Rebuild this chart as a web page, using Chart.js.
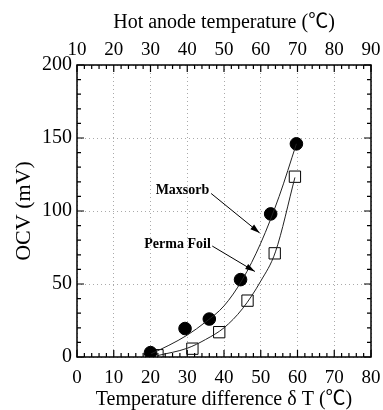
<!DOCTYPE html>
<html>
<head>
<meta charset="utf-8">
<script src="https://cdn.jsdelivr.net/npm/chart.js@4"></script>
<style>
  html, body { margin: 0; padding: 0; background: #fff; }
  #wrap { width: 383px; height: 410px; }
</style>
</head>
<body>
<div id="wrap"><canvas id="ocvChart"></canvas></div>
<script>
// measured points (temperature difference, OCV)
const maxsorbX = [20, 29.4, 36, 44.5, 52.7, 59.7];
const maxsorbY = [3, 19.5, 26, 53, 98, 146];
const permaX = [21.9, 31.4, 38.7, 46.4, 53.8, 59.3];
const permaY = [1.2, 5.7, 17, 38.6, 71, 123.5];

// fitted curves
const maxsorbFitX = [20, 25, 30, 35, 40, 45, 50, 55, 59.7];
const maxsorbFitY = [2, 8, 15, 24, 35, 53, 78, 110, 146];
const permaFitX = [22, 30, 35, 40, 45, 50, 54, 59.3];
const permaFitY = [1, 6, 12, 20, 33, 52, 72, 123];

const bottomTicks = [0, 10, 20, 30, 40, 50, 60, 70, 80];
const topTicks = [10, 20, 30, 40, 50, 60, 70, 80, 90];
const yTicks = [0, 50, 100, 150, 200];

const serif = "'Liberation Serif', 'Noto Sans CJK JP', 'DejaVu Serif', serif";

function pts(xs, ys) {
    return xs.map(function (x, i) { return { x: x, y: ys[i] }; });
}

// frame, inward ticks and the two labels with arrows
const framePlugin = {
    id: 'frame',
    afterDraw: function (chart) {
        const ctx = chart.ctx;
        const a = chart.chartArea;
        const x = chart.scales.x, y = chart.scales.y;
        ctx.save();
        ctx.strokeStyle = '#000';
        ctx.lineWidth = 1.5;
        ctx.strokeRect(a.left, a.top, a.right - a.left, a.bottom - a.top);
        ctx.lineWidth = 1.2;
        ctx.beginPath();
        for (let v = 0; v <= 80; v += 2) {
            const px = x.getPixelForValue(v);
            const len = v % 10 === 0 ? 7 : 4;
            ctx.moveTo(px, a.bottom); ctx.lineTo(px, a.bottom - len);
            ctx.moveTo(px, a.top); ctx.lineTo(px, a.top + len);
        }
        for (let v = 0; v <= 200; v += 10) {
            const py = y.getPixelForValue(v);
            const len = v % 50 === 0 ? 7 : 4;
            ctx.moveTo(a.left, py); ctx.lineTo(a.left + len, py);
            ctx.moveTo(a.right, py); ctx.lineTo(a.right - len, py);
        }
        ctx.stroke();

        // labels
        ctx.fillStyle = '#000';
        ctx.font = 'bold 14px ' + serif;
        ctx.textAlign = 'right';
        ctx.textBaseline = 'middle';
        ctx.fillText('Maxsorb', x.getPixelForValue(36), y.getPixelForValue(114));
        ctx.fillText('Perma Foil', x.getPixelForValue(36.4), y.getPixelForValue(77));

        function arrow(x0, y0, x1, y1) {
            const p0x = x.getPixelForValue(x0), p0y = y.getPixelForValue(y0);
            const p1x = x.getPixelForValue(x1), p1y = y.getPixelForValue(y1);
            const ang = Math.atan2(p1y - p0y, p1x - p0x);
            ctx.lineWidth = 1;
            ctx.beginPath();
            ctx.moveTo(p0x, p0y); ctx.lineTo(p1x, p1y);
            ctx.stroke();
            ctx.beginPath();
            ctx.moveTo(p1x, p1y);
            ctx.lineTo(p1x - 10 * Math.cos(ang - 0.3), p1y - 10 * Math.sin(ang - 0.3));
            ctx.lineTo(p1x - 10 * Math.cos(ang + 0.3), p1y - 10 * Math.sin(ang + 0.3));
            ctx.closePath();
            ctx.fill();
        }
        arrow(36.5, 112, 49.7, 85);
        arrow(36.8, 76, 48.4, 58.6);
        ctx.restore();
    }
};

new Chart(document.getElementById('ocvChart').getContext('2d'), {
    type: 'scatter',
    data: {
        datasets: [{
            label: 'Maxsorb fit',
            data: pts(maxsorbFitX, maxsorbFitY),
            showLine: true,
            borderColor: '#222',
            borderWidth: 1,
            pointRadius: 0,
            cubicInterpolationMode: 'monotone',
            xAxisID: 'x', yAxisID: 'y'
        }, {
            label: 'Perma Foil fit',
            data: pts(permaFitX, permaFitY),
            showLine: true,
            borderColor: '#222',
            borderWidth: 1,
            pointRadius: 0,
            cubicInterpolationMode: 'monotone',
            xAxisID: 'x', yAxisID: 'y'
        }, {
            label: 'Maxsorb',
            data: pts(maxsorbX, maxsorbY),
            pointStyle: 'circle',
            pointRadius: 6.3,
            backgroundColor: '#000',
            borderColor: '#000',
            xAxisID: 'x', yAxisID: 'y'
        }, {
            label: 'Perma Foil',
            data: pts(permaX, permaY),
            pointStyle: 'rect',
            pointRadius: 8,
            backgroundColor: '#fff',
            borderColor: '#000',
            borderWidth: 1,
            xAxisID: 'x', yAxisID: 'y'
        }]
    },
    options: {
        responsive: true,
        maintainAspectRatio: false,
        animation: false,
        layout: { padding: 0 },
        plugins: {
            legend: { display: false },
            tooltip: { enabled: false }
        },
        scales: {
            x: {
                type: 'linear', position: 'bottom', min: 0, max: 80,
                afterBuildTicks: function (s) { s.ticks = bottomTicks.map(function (v) { return { value: v }; }); },
                afterFit: function (s) { s.height = 53; s.paddingLeft = 0; s.paddingRight = 0; },
                ticks: { color: '#000', font: { family: serif, size: 19 }, padding: 10, maxRotation: 0 },
                grid: { color: '#aaa', drawTicks: false, lineWidth: 1 },
                border: { display: false, dash: [1, 3] },
                title: { display: true, text: 'Temperature difference \u03b4 T (\u2103)', color: '#000',
                         font: { family: serif, size: 20, lineHeight: 1 }, padding: { top: 0, bottom: 0 } }
            },
            x2: {
                type: 'linear', position: 'top', min: 10, max: 90,
                afterBuildTicks: function (s) { s.ticks = topTicks.map(function (v) { return { value: v }; }); },
                afterFit: function (s) { s.height = 65; s.paddingLeft = 0; s.paddingRight = 0; },
                ticks: { color: '#000', font: { family: serif, size: 19 }, padding: 4, maxRotation: 0 },
                grid: { display: false, drawTicks: false },
                border: { display: false },
                title: { display: true, text: 'Hot anode temperature (\u2103)', color: '#000',
                         font: { family: serif, size: 20, lineHeight: 1 }, padding: { top: 13, bottom: 0 } }
            },
            y: {
                type: 'linear', position: 'left', min: 0, max: 200,
                afterBuildTicks: function (s) { s.ticks = yTicks.map(function (v) { return { value: v }; }); },
                afterFit: function (s) { s.width = 77; s.paddingTop = 0; s.paddingBottom = 0; },
                ticks: { color: '#000', font: { family: serif, size: 20 }, padding: 5 },
                grid: { color: '#aaa', drawTicks: false, lineWidth: 1 },
                border: { display: false, dash: [1, 3] },
                title: { display: true, text: 'OCV (mV)', color: '#000',
                         font: { family: serif, size: 22 }, padding: { top: 11, bottom: 0 } }
            },
            y2: {
                type: 'linear', position: 'right', min: 0, max: 200,
                afterFit: function (s) { s.width = 12; s.paddingTop = 0; s.paddingBottom = 0; },
                ticks: { display: false },
                grid: { display: false, drawTicks: false },
                border: { display: false }
            }
        }
    },
    plugins: [framePlugin]
});
</script>
</body>
</html>
